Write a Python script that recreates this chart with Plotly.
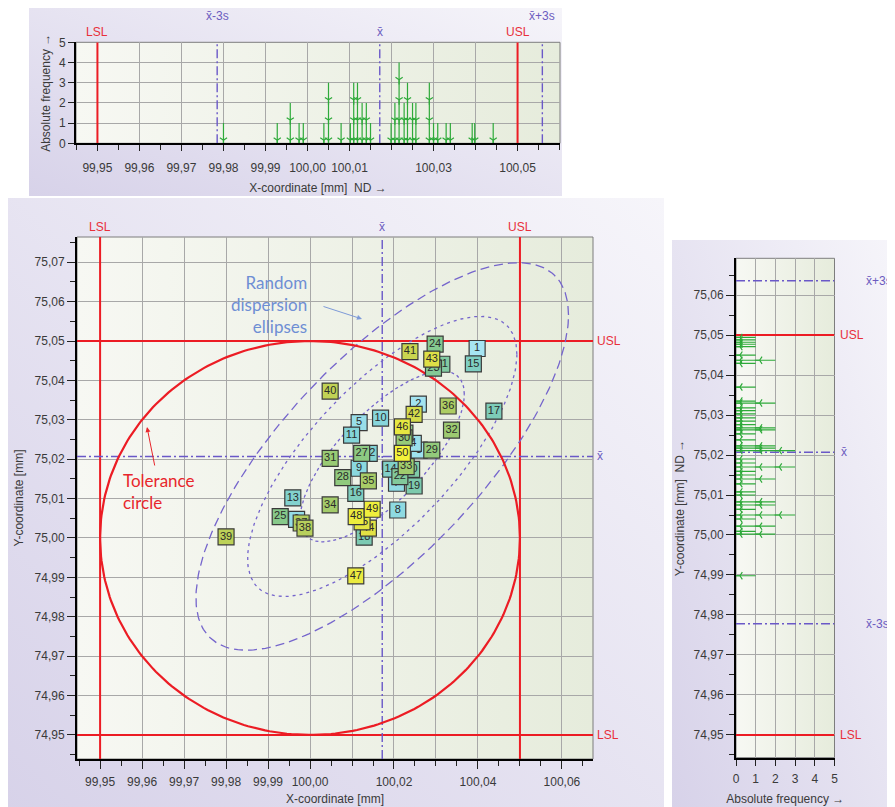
import base64
import numpy as np
import plotly.graph_objects as go
import plotly.colors as pc

# ---------------- data ----------------
point_ids = list(range(1, 51))
point_x = [100.0398, 100.0258, 100.0260, 100.0246, 100.0117, 99.9968, 100.0206, 100.0209, 100.0117, 100.0168,
           100.0099, 100.0141, 99.9959, 100.0192, 100.0389, 100.0109, 100.0438, 100.0129, 100.0248, 100.0242,
           100.0314, 100.0214, 100.0294, 100.0298, 99.9929, 100.0226, 100.0123, 100.0078, 100.0290, 100.0224,
           100.0048, 100.0337, 100.0229, 100.0048, 100.0139, 100.0329, 99.9979, 99.9988, 99.9800, 100.0048,
           100.0238, 100.0248, 100.0290, 100.0139, 100.0124, 100.0220, 100.0109, 100.0110, 100.0148, 100.0220]
point_y = [75.0481, 75.0340, 75.0223, 75.0240, 75.0293, 75.0047, 75.0139, 75.0071, 75.0177, 75.0304,
           75.0261, 75.0215, 75.0102, 75.0175, 75.0442, 75.0113, 75.0322, 75.0002, 75.0132, 75.0174,
           75.0441, 75.0156, 75.0431, 75.0492, 75.0054, 75.0266, 75.0215, 75.0153, 75.0223, 75.0254,
           75.0202, 75.0274, 75.0181, 75.0084, 75.0145, 75.0335, 75.0038, 75.0025, 75.0003, 75.0373,
           75.0473, 75.0314, 75.0454, 75.0025, 75.0041, 75.0282, 74.9904, 75.0054, 75.0073, 75.0215]

hist_x_values = [99.9800, 99.9928, 99.9959, 99.9980, 99.9990, 100.0039, 100.0050, 100.0080, 100.0102, 100.0110,
                 100.0119, 100.0130, 100.0140, 100.0150, 100.0199, 100.0208, 100.0218, 100.0230, 100.0238, 100.0250,
                 100.0258, 100.0290, 100.0300, 100.0310, 100.0330, 100.0340, 100.0392, 100.0398, 100.0442]
hist_x_counts = [1, 1, 2, 1, 1, 1, 3, 1, 1, 3, 3, 2, 2, 1, 1, 2, 4, 2, 3, 2, 2, 3, 1, 1, 1, 1, 1, 1, 1]

hist_y_values = [75.0494, 75.0488, 75.0482, 75.0477, 75.0471, 75.0450, 75.0437, 75.0429, 75.0370, 75.0335,
                 75.0330, 75.0318, 75.0311, 75.0303, 75.0293, 75.0285, 75.0276, 75.0268, 75.0263, 75.0253,
                 75.0238, 75.0223, 75.0217, 75.0211, 75.0190, 75.0180, 75.0170, 75.0159, 75.0150, 75.0140,
                 75.0128, 75.0108, 75.0100, 75.0083, 75.0075, 75.0064, 75.0050, 75.0040, 75.0022, 75.0009,
                 75.0002, 74.9898]
hist_y_counts = [1, 1, 1, 1, 1, 1, 2, 1, 1, 1, 2, 1, 1, 1, 1, 1, 1, 2, 2, 1,
                 1, 2, 2, 3, 1, 1, 3, 1, 1, 2, 1, 1, 1, 2, 2, 1, 3, 1, 2, 1,
                 2, 1]

x_lsl, x_usl = 99.95, 100.05
y_lsl, y_usl = 74.95, 75.05
nominal_x, nominal_y = 100.00, 75.00
tol_radius = 0.05
x_mean, x_sd = 100.0172, 0.0129
y_mean, y_sd = 75.0207, 0.0143
xy_corr = 0.73
ellipse_probs = [0.6827, 0.9545, 0.9973]

main_x_ticks = [99.95, 99.96, 99.97, 99.98, 99.99, 100.00, 100.01, 100.02, 100.03, 100.04, 100.05, 100.06]
main_x_ticktext = ["99,95", "99,96", "99,97", "99,98", "99,99", "100,00", "", "100,02", "", "100,04", "", "100,06"]
main_y_ticks = [74.95, 74.96, 74.97, 74.98, 74.99, 75.00, 75.01, 75.02, 75.03, 75.04, 75.05, 75.06, 75.07]
main_y_ticktext = ["74,95", "74,96", "74,97", "74,98", "74,99", "75,00", "75,01", "75,02", "75,03",
                   "75,04", "75,05", "75,06", "75,07"]
top_x_ticks = [99.95, 99.96, 99.97, 99.98, 99.99, 100.00, 100.01, 100.02, 100.03, 100.04, 100.05, 100.06]
top_x_ticktext = ["99,95", "99,96", "99,97", "99,98", "99,99", "100,00", "100,01", "", "100,03", "", "100,05", ""]
right_y_ticks = [74.95, 74.96, 74.97, 74.98, 74.99, 75.00, 75.01, 75.02, 75.03, 75.04, 75.05, 75.06]
right_y_ticktext = ["74,95", "74,96", "74,97", "74,98", "74,99", "75,00", "75,01", "75,02", "75,03",
                    "75,04", "75,05", "75,06"]
freq_ticks = [0, 1, 2, 3, 4, 5]

# ---------------- layout constants ----------------
# the page body has an 8px margin, so the figure is drawn 8px smaller and all
# page pixel positions are shifted by that offset
OFF = 8
W, H = 895 - OFF, 807 - OFF
FONT = "Liberation Sans, Arial, sans-serif"
NOTE_FONT = "Lato, Open Sans, sans-serif"
RED = "#ec1c24"
RED_TXT = "#e8303a"
PURPLE = "#6a58c8"
PURPLE_TXT = "#6c5cc0"
GREEN = "#2eaa3a"
TXT = "#3a3a3a"
GRID = "#a8a8a8"

MAIN_XR = [99.9445, 100.0674]
MAIN_YR = [74.9439, 75.0764]
TOP_XR = [99.9449, 100.0601]
TOP_YR = [0, 5]
RIGHT_XR = [0, 5]
RIGHT_YR = [74.9443, 75.0692]


def fx(p):
    return (p - OFF) / W


def fy(p):
    return 1 - (p - OFF) / H


MAIN_DOM = ([fx(77), fx(593)], [fy(759), fy(237)])
TOP_DOM = ([fx(76), fx(560)], [fy(143.3), fy(42.3)])
RIGHT_DOM = ([fx(736), fx(834.5)], [fy(757.7), fy(258.3)])


def grad_uri(c1, c2, x1, y1, x2, y2):
    svg = ('<svg xmlns="http://www.w3.org/2000/svg" width="100" height="100" viewBox="0 0 100 100" '
           'preserveAspectRatio="none"><defs><linearGradient id="g" x1="%s" y1="%s" x2="%s" y2="%s">'
           '<stop offset="0" stop-color="%s"/><stop offset="1" stop-color="%s"/></linearGradient></defs>'
           '<rect width="100" height="100" fill="url(#g)"/></svg>') % (x1, y1, x2, y2, c1, c2)
    return "data:image/svg+xml;base64," + base64.b64encode(svg.encode()).decode()


PANEL_BG = grad_uri("#d7d2e9", "#f6f5fa", 0, 1, 1, 0)
PLOT_BG = grad_uri("#f7f8f3", "#e6ecdc", 0, 0, 1, 0)


def img(src, x0, y0, x1, y1):
    return dict(source=src, xref="paper", yref="paper", x=fx(x0), y=fy(y0), sizex=fx(x1) - fx(x0),
                sizey=fy(y0) - fy(y1), xanchor="left", yanchor="top", sizing="stretch", layer="below")


images = [
    img(PANEL_BG, 29, 0, 562, 196),
    img(PANEL_BG, 0, 198, 664, 807),
    img(PANEL_BG, 672, 240, 895, 807),
    img(PLOT_BG, 76, 42.3, 560, 143.3),
    img(PLOT_BG, 77, 237, 593, 759),
    img(PLOT_BG, 736, 258.3, 834.5, 757.7),
]

fig = go.Figure()


def vlines(vals, yr):
    xs, ys = [], []
    for v in vals:
        xs += [v, v, None]
        ys += [yr[0], yr[1], None]
    return xs, ys


def hlines(vals, xr):
    xs, ys = [], []
    for v in vals:
        xs += [xr[0], xr[1], None]
        ys += [v, v, None]
    return xs, ys


def line_trace(xs, ys, color, width, dash, xa, ya):
    return go.Scatter(x=xs, y=ys, mode="lines", line=dict(color=color, width=width, dash=dash),
                      xaxis=xa, yaxis=ya, hoverinfo="skip", showlegend=False)


MEAN_DASH = "9px,3px,2px,3px"

# ---------------- main scatter panel ----------------
xs, ys = vlines([x_lsl, x_usl], MAIN_YR)
fig.add_trace(line_trace(xs, ys, RED, 2, "solid", "x", "y"))
xs, ys = hlines([y_lsl, y_usl], MAIN_XR)
fig.add_trace(line_trace(xs, ys, RED, 2, "solid", "x", "y"))
xs, ys = vlines([x_mean], MAIN_YR)
fig.add_trace(line_trace(xs, ys, PURPLE, 1.4, MEAN_DASH, "x", "y"))
xs, ys = hlines([y_mean], MAIN_XR)
fig.add_trace(line_trace(xs, ys, PURPLE, 1.4, MEAN_DASH, "x", "y"))

cov = np.array([[x_sd ** 2, xy_corr * x_sd * y_sd], [xy_corr * x_sd * y_sd, y_sd ** 2]])
L = np.linalg.cholesky(cov)
t = np.linspace(0, 2 * np.pi, 300)
circ = np.vstack([np.cos(t), np.sin(t)])
ell_dash = ["3px,3px", "3px,4px", "9px,5px"]
for p, d in zip(ellipse_probs, ell_dash):
    k = np.sqrt(-2 * np.log(1 - p))
    e = k * (L @ circ)
    fig.add_trace(line_trace(x_mean + e[0], y_mean + e[1], "#7565cc", 1.3, d, "x", "y"))

fig.add_trace(line_trace(nominal_x + tol_radius * np.cos(t), nominal_y + tol_radius * np.sin(t),
                         RED, 2.2, "solid", "x", "y"))

scale = [[0, "#a6e5f3"], [0.2, "#84d5da"], [0.35, "#7ccab2"], [0.5, "#88c987"], [0.68, "#a4cb69"],
         [0.8, "#c2d254"], [0.86, "#dfe046"], [1, "#f3f23a"]]
cols = pc.sample_colorscale(scale, [(i - 1) / 49 for i in point_ids])
for pid, px_, py_, c in zip(point_ids, point_x, point_y, cols):
    fig.add_trace(go.Scatter(x=[px_], y=[py_], mode="markers+text", text=[str(pid)],
                             textposition="middle center",
                             textfont=dict(size=11, color="#2a2a2a", family=FONT),
                             marker=dict(symbol="square", size=16, color=c,
                                         line=dict(color="#3a3a3a", width=1.2)),
                             xaxis="x", yaxis="y", hoverinfo="skip", showlegend=False))

# ---------------- top histogram ----------------
xs, ys = vlines([x_lsl, x_usl], TOP_YR)
fig.add_trace(line_trace(xs, ys, RED, 2, "solid", "x2", "y2"))
xs, ys = vlines([x_mean - 3 * x_sd, x_mean, x_mean + 3 * x_sd], TOP_YR)
fig.add_trace(line_trace(xs, ys, PURPLE, 1.4, MEAN_DASH, "x2", "y2"))

sx, sy, hx, hy = [], [], [], []
for v, n in zip(hist_x_values, hist_x_counts):
    sx += [v, v, None]
    sy += [0, n, None]
    for k in range(n):
        hx.append(v)
        hy.append(k + 0.15)
fig.add_trace(line_trace(sx, sy, GREEN, 1.2, "solid", "x2", "y2"))
fig.add_trace(go.Scatter(x=hx, y=hy, mode="markers", xaxis="x2", yaxis="y2",
                         marker=dict(symbol="y-down", size=6, color=GREEN, line=dict(color=GREEN, width=1.2)),
                         hoverinfo="skip", showlegend=False))

# ---------------- right histogram ----------------
xs, ys = hlines([y_lsl, y_usl], RIGHT_XR)
fig.add_trace(line_trace(xs, ys, RED, 2, "solid", "x3", "y3"))
xs, ys = hlines([y_mean - 3 * y_sd, y_mean, y_mean + 3 * y_sd], RIGHT_XR)
fig.add_trace(line_trace(xs, ys, PURPLE, 1.4, MEAN_DASH, "x3", "y3"))

sx, sy, hx, hy = [], [], [], []
for v, n in zip(hist_y_values, hist_y_counts):
    sx += [0, n, None]
    sy += [v, v, None]
    for k in range(n):
        hx.append(k + 0.2)
        hy.append(v)
fig.add_trace(line_trace(sx, sy, GREEN, 1.2, "solid", "x3", "y3"))
fig.add_trace(go.Scatter(x=hx, y=hy, mode="markers", xaxis="x3", yaxis="y3",
                         marker=dict(symbol="y-left", size=6, color=GREEN, line=dict(color=GREEN, width=1.2)),
                         hoverinfo="skip", showlegend=False))


# ---------------- axes ----------------
def ax(domain, rng, anchor, tickvals, ticktext, ticklen, minor_vals, title, standoff, lab_off=0):
    d = dict(domain=domain, range=rng, anchor=anchor, tickmode="array", tickvals=tickvals, ticktext=ticktext,
             ticks="outside", ticklen=ticklen, tickwidth=1, tickcolor="#222222", automargin=False,
             ticklabelstandoff=lab_off,
             showline=True, linecolor="black", linewidth=2, showgrid=True, gridcolor=GRID, gridwidth=1,
             zeroline=False, fixedrange=True,
             tickfont=dict(size=12, color=TXT, family=FONT),
             title=dict(text=title, font=dict(size=12, color=TXT, family=FONT), standoff=standoff))
    if minor_vals is not None:
        d["minor"] = dict(tickmode="array", tickvals=minor_vals, ticks="outside", ticklen=5,
                          tickcolor="#222222", tickwidth=1, showgrid=False)
    return d


main_x_minor = list(np.round(np.arange(MAIN_XR[0] + 0.0005, MAIN_XR[1], 0.005), 4))
main_y_minor = list(np.round(np.arange(74.945, MAIN_YR[1], 0.005), 4))
top_x_minor = list(np.round(np.arange(99.945, TOP_XR[1], 0.005), 4))
right_y_minor = list(np.round(np.arange(74.945, RIGHT_YR[1], 0.005), 4))

fig.update_layout(
    width=W, height=H, margin=dict(l=0, r=0, t=0, b=0, autoexpand=False),
    paper_bgcolor="white", plot_bgcolor="rgba(0,0,0,0)", showlegend=False,
    images=images,
    xaxis=ax(MAIN_DOM[0], MAIN_XR, "y", main_x_ticks, main_x_ticktext, 8, main_x_minor,
             "X-coordinate [mm]", 6, 3),
    yaxis=ax(MAIN_DOM[1], MAIN_YR, "x", main_y_ticks, main_y_ticktext, 8, main_y_minor, "Y-coordinate [mm]", 8),
    xaxis2=ax(TOP_DOM[0], TOP_XR, "y2", top_x_ticks, top_x_ticktext, 6, top_x_minor,
              "X-coordinate [mm]\u00a0 ND \u2192", 10, 6),
    yaxis2=ax(TOP_DOM[1], TOP_YR, "x2", freq_ticks, [str(v) for v in freq_ticks], 6, None,
              "Absolute frequency \u2192", 6),
    xaxis3=ax(RIGHT_DOM[0], RIGHT_XR, "y3", freq_ticks, [str(v) for v in freq_ticks], 6, None,
              "Absolute frequency \u2192", 10, 3),
    yaxis3=ax(RIGHT_DOM[1], RIGHT_YR, "x3", right_y_ticks, right_y_ticktext, 8, right_y_minor,
              "Y-coordinate [mm]\u00a0 ND \u2192", 6),
)

# plot area borders
shapes = []
for (x0, y0, x1, y1) in [(76, 42.3, 560, 143.3), (77, 237, 593, 759), (736, 258.3, 834.5, 757.7)]:
    shapes.append(dict(type="rect", xref="paper", yref="paper", x0=fx(x0), x1=fx(x1), y0=fy(y1), y1=fy(y0),
                       line=dict(color="#7d7d7d", width=1), fillcolor="rgba(0,0,0,0)", layer="below"))
fig.update_layout(shapes=shapes)

XBAR = "x\u0304"
ann = []


def lab(text, color, **kw):
    d = dict(text=text, showarrow=False, font=dict(size=12, color=color, family=FONT))
    d.update(kw)
    ann.append(d)


# main labels
lab("LSL", RED_TXT, x=x_lsl, xref="x", y=1, yref="y domain", yanchor="bottom", yshift=1)
lab(XBAR, PURPLE_TXT, x=x_mean, xref="x", y=1, yref="y domain", yanchor="bottom", yshift=1)
lab("USL", RED_TXT, x=x_usl, xref="x", y=1, yref="y domain", yanchor="bottom", yshift=1)
lab("USL", RED_TXT, x=1, xref="x domain", y=y_usl, yref="y", xanchor="left", xshift=2)
lab(XBAR, PURPLE_TXT, x=1, xref="x domain", y=y_mean, yref="y", xanchor="left", xshift=2)
lab("LSL", RED_TXT, x=1, xref="x domain", y=y_lsl, yref="y", xanchor="left", xshift=2)
# top labels
lab("LSL", RED_TXT, x=x_lsl, xref="x2", y=1, yref="y2 domain", yanchor="bottom", yshift=1)
lab(XBAR, PURPLE_TXT, x=x_mean, xref="x2", y=1, yref="y2 domain", yanchor="bottom", yshift=1)
lab("USL", RED_TXT, x=x_usl, xref="x2", y=1, yref="y2 domain", yanchor="bottom", yshift=1)
lab(XBAR + "-3s", PURPLE_TXT, x=x_mean - 3 * x_sd, xref="x2", y=1, yref="y2 domain", yanchor="bottom", yshift=17)
lab(XBAR + "+3s", PURPLE_TXT, x=x_mean + 3 * x_sd, xref="x2", y=1, yref="y2 domain", yanchor="bottom", yshift=17)
# right labels
lab(XBAR + "+3s", PURPLE_TXT, x=1, xref="x3 domain", y=y_mean + 3 * y_sd, yref="y3", xanchor="left", xshift=29)
lab("USL", RED_TXT, x=1, xref="x3 domain", y=y_usl, yref="y3", xanchor="left", xshift=3)
lab(XBAR, PURPLE_TXT, x=1, xref="x3 domain", y=y_mean, yref="y3", xanchor="left", xshift=4)
lab(XBAR + "-3s", PURPLE_TXT, x=1, xref="x3 domain", y=y_mean - 3 * y_sd, yref="y3", xanchor="left", xshift=29)
lab("LSL", RED_TXT, x=1, xref="x3 domain", y=y_lsl, yref="y3", xanchor="left", xshift=3)

# callouts
ann.append(dict(text="Random<br>dispersion<br>ellipses", showarrow=False, xref="paper", yref="paper",
                x=fx(309), y=fy(304), xanchor="right", yanchor="middle", align="right",
                font=dict(size=17, color="#6e8ed4", family=NOTE_FONT)))
ann.append(dict(text="", showarrow=True, xref="paper", yref="paper", x=fx(362), y=fy(319),
                ax=-40, ay=-13, arrowhead=2, arrowsize=1, arrowwidth=1, arrowcolor="#7d9ad8"))
ann.append(dict(text="Tolerance<br>circle", showarrow=False, xref="paper", yref="paper",
                x=fx(121), y=fy(491), xanchor="left", yanchor="middle", align="left",
                font=dict(size=17, color="#e8262c", family=NOTE_FONT)))
ann.append(dict(text="", showarrow=True, xref="paper", yref="paper", x=fx(147), y=fy(427),
                ax=8, ay=40, arrowhead=2, arrowsize=1, arrowwidth=1, arrowcolor="#e8262c"))

fig.update_layout(annotations=ann)

fig.write_html("out.html")
